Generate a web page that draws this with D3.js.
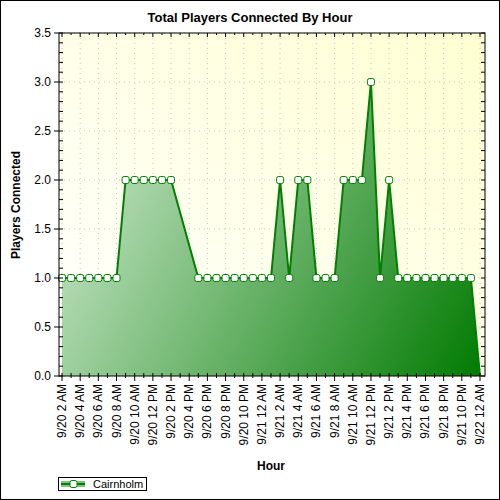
<!DOCTYPE html>
<html><head><meta charset="utf-8">
<script src="https://cdn.jsdelivr.net/npm/d3@7"></script>
<style>body{margin:0;background:#fff}svg{display:block}</style>
</head><body>
<script>
// hours offset from 9/20 00:00
const hours = [2,3,4,5,6,7,8,9,10,11,12,13,14,17,18,19,20,21,22,23,24,25,26,27,28,29,30,31,32,33,34,35,36,37,38,39,40,41,42,43,44,45,46,47,48];
const players = [1,1,1,1,1,1,1,2,2,2,2,2,2,1,1,1,1,1,1,1,1,1,2,1,2,2,1,1,1,2,2,2,3,1,2,1,1,1,1,1,1,1,1,1,0];
const tickHours = d3.range(2,49,2);
const tickLabels = ["9/20 2 AM","9/20 4 AM","9/20 6 AM","9/20 8 AM","9/20 10 AM","9/20 12 PM","9/20 2 PM","9/20 4 PM","9/20 6 PM","9/20 8 PM","9/20 10 PM","9/21 12 AM","9/21 2 AM","9/21 4 AM","9/21 6 AM","9/21 8 AM","9/21 10 AM","9/21 12 PM","9/21 2 PM","9/21 4 PM","9/21 6 PM","9/21 8 PM","9/21 10 PM","9/22 12 AM"];
const yTicks = [0,0.5,1,1.5,2,2.5,3,3.5];

const W=500,H=500, L=59,R=485,T=33,B=376;
const svg=d3.select("body").append("svg").attr("width",W).attr("height",H).style("font-family","Liberation Sans, Arial, sans-serif");
const defs=svg.append("defs");
const bg=defs.append("linearGradient").attr("id","bg").attr("x1","0").attr("y1","1").attr("x2","1").attr("y2","0");
bg.append("stop").attr("offset","0").attr("stop-color","#ffffff");
bg.append("stop").attr("offset","1").attr("stop-color","#ffffd2");
const fg=defs.append("linearGradient").attr("id","fg").attr("gradientUnits","userSpaceOnUse").attr("x1",L).attr("y1",150).attr("x2",R).attr("y2",B);
fg.append("stop").attr("offset","0").attr("stop-color","#cce8cc");
fg.append("stop").attr("offset","1").attr("stop-color","#007a00");

svg.append("rect").attr("x",0.5).attr("y",0.5).attr("width",W-1).attr("height",H-1).attr("fill","#fff").attr("stroke","#000");
const x=d3.scaleLinear().domain([2,48]).range([62,480]);
const y=d3.scaleLinear().domain([0,3.5]).range([B,T]);
svg.append("rect").attr("x",L).attr("y",T).attr("width",R-L).attr("height",B-T).attr("fill","url(#bg)");
// grid
const g=svg.append("g").attr("stroke","#c8c8c8").attr("stroke-dasharray","1,4");
tickHours.forEach(h=>g.append("line").attr("x1",x(h)).attr("x2",x(h)).attr("y1",T).attr("y2",B));
yTicks.forEach(v=>g.append("line").attr("x1",L).attr("x2",R).attr("y1",y(v)).attr("y2",y(v)));
const data=hours.map((h,i)=>({h,v:players[i]}));
svg.append("path").datum(data).attr("d",d3.area().x(d=>x(d.h)).y0(y(0)).y1(d=>y(d.v))).attr("fill","url(#fg)");
svg.append("path").datum(data).attr("d",d3.line().x(d=>x(d.h)).y(d=>y(d.v))).attr("fill","none").attr("stroke","#008000").attr("stroke-width",2);
svg.selectAll("rect.m").data(data.filter(d=>d.v>0)).enter().append("rect").attr("class","m")
 .attr("x",d=>x(d.h)-3.5).attr("y",d=>y(d.v)-3.5).attr("width",7).attr("height",7).attr("rx",2)
 .attr("fill","#fff").attr("stroke","#008000").attr("stroke-width",1);
// axes frame
svg.append("rect").attr("x",L).attr("y",T).attr("width",R-L).attr("height",B-T).attr("fill","none").attr("stroke","#000");
const ax=svg.append("g").attr("stroke","#000");
d3.range(0,3.51,0.1).forEach(v=>{
  const major=Math.abs(v*2-Math.round(v*2))<1e-6;
  ax.append("line").attr("x1",major?L-5:L).attr("x2",L+4).attr("y1",y(v)).attr("y2",y(v));
  ax.append("line").attr("x1",R-4).attr("x2",R).attr("y1",y(v)).attr("y2",y(v));
});
d3.range(2,49,1).forEach(h=>{
  const major=h%2===0;
  ax.append("line").attr("x1",x(h)).attr("x2",x(h)).attr("y1",B-3).attr("y2",B+(major?5:2));
  ax.append("line").attr("x1",x(h)).attr("x2",x(h)).attr("y1",T).attr("y2",T+(major?4:2));
});
yTicks.forEach(v=>svg.append("text").attr("x",L-8).attr("y",y(v)+4).attr("text-anchor","end").attr("font-size",12).text(v.toFixed(1)));
tickHours.forEach((h,i)=>svg.append("text").attr("transform",`translate(${x(h)+4},${B+8}) rotate(-90)`).attr("text-anchor","end").attr("font-size",12).text(tickLabels[i]));
svg.append("text").attr("x",250).attr("y",22).attr("text-anchor","middle").attr("font-size",13).attr("font-weight","bold").text("Total Players Connected By Hour");
svg.append("text").attr("x",271).attr("y",470).attr("text-anchor","middle").attr("font-size",12).attr("font-weight","bold").text("Hour");
svg.append("text").attr("transform","translate(20,205) rotate(-90)").attr("text-anchor","middle").attr("font-size",12).attr("font-weight","bold").text("Players Connected");
// legend
const lg=svg.append("g");
lg.append("rect").attr("x",58.5).attr("y",477.5).attr("width",88).attr("height",13).attr("fill","#fff").attr("stroke","#000");
lg.append("rect").attr("x",61).attr("y",481).attr("width",24).attr("height",6).attr("fill","url(#fg)");
lg.append("line").attr("x1",61).attr("x2",85).attr("y1",484).attr("y2",484).attr("stroke","#008000").attr("stroke-width",2);
lg.append("rect").attr("x",70).attr("y",480.5).attr("width",7).attr("height",7).attr("rx",2).attr("fill","#fff").attr("stroke","#008000");
lg.append("text").attr("x",93).attr("y",488).attr("font-size",11).text("Cairnholm");
</script>
</body></html>
